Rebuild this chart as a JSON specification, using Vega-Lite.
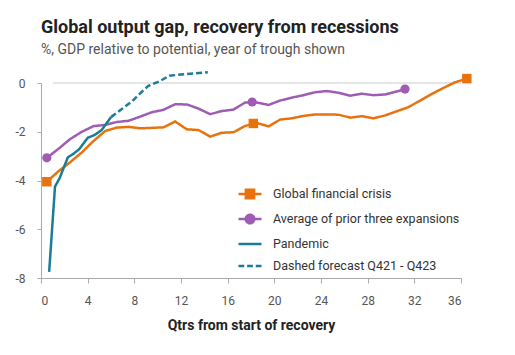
{
  "$schema": "https://vega.github.io/schema/vega-lite/v6.json",
  "width": 420,
  "height": 195,
  "autosize": "none",
  "padding": {"left": 41, "top": 83, "right": 54, "bottom": 77},
  "background": "white",
  "title": {
    "text": "Global output gap, recovery from recessions",
    "subtitle": "%, GDP relative to potential, year of trough shown",
    "anchor": "start",
    "frame": "group",
    "font": "Roboto",
    "fontSize": 18,
    "fontWeight": "bold",
    "color": "#222222",
    "subtitleFont": "Roboto",
    "subtitleFontSize": 14,
    "subtitleColor": "#555555",
    "subtitlePadding": 6,
    "offset": 10
  },
  "config": {
    "view": {"stroke": null},
    "font": "Roboto",
    "axis": {"labelFont": "Roboto", "titleFont": "Roboto"},
    "legend": {"labelFont": "Roboto"}
  },
  "datasets": {
    "lines": [
      {"q": 0.5, "v": -4.05, "s": "Global financial crisis"},
      {"q": 1.5, "v": -3.62, "s": "Global financial crisis"},
      {"q": 2.5, "v": -3.25, "s": "Global financial crisis"},
      {"q": 3.5, "v": -2.85, "s": "Global financial crisis"},
      {"q": 4.5, "v": -2.38, "s": "Global financial crisis"},
      {"q": 5.5, "v": -1.97, "s": "Global financial crisis"},
      {"q": 6.5, "v": -1.83, "s": "Global financial crisis"},
      {"q": 7.5, "v": -1.8, "s": "Global financial crisis"},
      {"q": 8.5, "v": -1.86, "s": "Global financial crisis"},
      {"q": 9.5, "v": -1.84, "s": "Global financial crisis"},
      {"q": 10.5, "v": -1.82, "s": "Global financial crisis"},
      {"q": 11.5, "v": -1.58, "s": "Global financial crisis"},
      {"q": 12.5, "v": -1.9, "s": "Global financial crisis"},
      {"q": 13.5, "v": -1.93, "s": "Global financial crisis"},
      {"q": 14.5, "v": -2.2, "s": "Global financial crisis"},
      {"q": 15.5, "v": -2.04, "s": "Global financial crisis"},
      {"q": 16.5, "v": -2.02, "s": "Global financial crisis"},
      {"q": 17.5, "v": -1.76, "s": "Global financial crisis"},
      {"q": 18.5, "v": -1.64, "s": "Global financial crisis"},
      {"q": 19.5, "v": -1.78, "s": "Global financial crisis"},
      {"q": 20.5, "v": -1.5, "s": "Global financial crisis"},
      {"q": 21.5, "v": -1.45, "s": "Global financial crisis"},
      {"q": 22.5, "v": -1.35, "s": "Global financial crisis"},
      {"q": 23.5, "v": -1.29, "s": "Global financial crisis"},
      {"q": 24.5, "v": -1.29, "s": "Global financial crisis"},
      {"q": 25.5, "v": -1.3, "s": "Global financial crisis"},
      {"q": 26.5, "v": -1.42, "s": "Global financial crisis"},
      {"q": 27.5, "v": -1.36, "s": "Global financial crisis"},
      {"q": 28.5, "v": -1.45, "s": "Global financial crisis"},
      {"q": 29.5, "v": -1.33, "s": "Global financial crisis"},
      {"q": 30.5, "v": -1.16, "s": "Global financial crisis"},
      {"q": 31.5, "v": -0.99, "s": "Global financial crisis"},
      {"q": 32.5, "v": -0.72, "s": "Global financial crisis"},
      {"q": 33.5, "v": -0.45, "s": "Global financial crisis"},
      {"q": 34.5, "v": -0.2, "s": "Global financial crisis"},
      {"q": 35.5, "v": 0.03, "s": "Global financial crisis"},
      {"q": 36.5, "v": 0.18, "s": "Global financial crisis"},
      {"q": 0.5, "v": -3.07, "s": "Average of prior three expansions"},
      {"q": 1.5, "v": -2.7, "s": "Average of prior three expansions"},
      {"q": 2.5, "v": -2.3, "s": "Average of prior three expansions"},
      {"q": 3.5, "v": -2.0, "s": "Average of prior three expansions"},
      {"q": 4.5, "v": -1.77, "s": "Average of prior three expansions"},
      {"q": 5.5, "v": -1.72, "s": "Average of prior three expansions"},
      {"q": 6.5, "v": -1.6, "s": "Average of prior three expansions"},
      {"q": 7.5, "v": -1.55, "s": "Average of prior three expansions"},
      {"q": 8.5, "v": -1.38, "s": "Average of prior three expansions"},
      {"q": 9.5, "v": -1.2, "s": "Average of prior three expansions"},
      {"q": 10.5, "v": -1.1, "s": "Average of prior three expansions"},
      {"q": 11.5, "v": -0.87, "s": "Average of prior three expansions"},
      {"q": 12.5, "v": -0.88, "s": "Average of prior three expansions"},
      {"q": 13.5, "v": -1.05, "s": "Average of prior three expansions"},
      {"q": 14.5, "v": -1.28, "s": "Average of prior three expansions"},
      {"q": 15.5, "v": -1.15, "s": "Average of prior three expansions"},
      {"q": 16.5, "v": -1.09, "s": "Average of prior three expansions"},
      {"q": 17.5, "v": -0.8, "s": "Average of prior three expansions"},
      {"q": 18.5, "v": -0.8, "s": "Average of prior three expansions"},
      {"q": 19.5, "v": -0.9, "s": "Average of prior three expansions"},
      {"q": 20.5, "v": -0.72, "s": "Average of prior three expansions"},
      {"q": 21.5, "v": -0.6, "s": "Average of prior three expansions"},
      {"q": 22.5, "v": -0.5, "s": "Average of prior three expansions"},
      {"q": 23.5, "v": -0.38, "s": "Average of prior three expansions"},
      {"q": 24.5, "v": -0.33, "s": "Average of prior three expansions"},
      {"q": 25.5, "v": -0.4, "s": "Average of prior three expansions"},
      {"q": 26.5, "v": -0.52, "s": "Average of prior three expansions"},
      {"q": 27.5, "v": -0.44, "s": "Average of prior three expansions"},
      {"q": 28.5, "v": -0.5, "s": "Average of prior three expansions"},
      {"q": 29.5, "v": -0.47, "s": "Average of prior three expansions"},
      {"q": 30.5, "v": -0.35, "s": "Average of prior three expansions"},
      {"q": 31.2, "v": -0.25, "s": "Average of prior three expansions"},
      {"q": 0.7, "v": -7.75, "s": "Pandemic"},
      {"q": 1.2, "v": -4.25, "s": "Pandemic"},
      {"q": 1.6, "v": -3.9, "s": "Pandemic"},
      {"q": 2.3, "v": -3.05, "s": "Pandemic"},
      {"q": 2.8, "v": -2.9, "s": "Pandemic"},
      {"q": 3.3, "v": -2.7, "s": "Pandemic"},
      {"q": 4.0, "v": -2.25, "s": "Pandemic"},
      {"q": 4.6, "v": -2.13, "s": "Pandemic"},
      {"q": 5.2, "v": -1.93, "s": "Pandemic"},
      {"q": 6.0, "v": -1.4, "s": "Pandemic"},
      {"q": 6.0, "v": -1.4, "s": "Dashed forecast Q421 - Q423"},
      {"q": 6.7, "v": -1.15, "s": "Dashed forecast Q421 - Q423"},
      {"q": 7.8, "v": -0.75, "s": "Dashed forecast Q421 - Q423"},
      {"q": 8.6, "v": -0.38, "s": "Dashed forecast Q421 - Q423"},
      {"q": 9.2, "v": -0.12, "s": "Dashed forecast Q421 - Q423"},
      {"q": 10.2, "v": 0.08, "s": "Dashed forecast Q421 - Q423"},
      {"q": 11.0, "v": 0.3, "s": "Dashed forecast Q421 - Q423"},
      {"q": 12.3, "v": 0.36, "s": "Dashed forecast Q421 - Q423"},
      {"q": 13.2, "v": 0.4, "s": "Dashed forecast Q421 - Q423"},
      {"q": 14.3, "v": 0.44, "s": "Dashed forecast Q421 - Q423"}
    ],
    "markers": [
      {"q": 0.5, "v": -4.05, "s": "Global financial crisis"},
      {"q": 18.2, "v": -1.66, "s": "Global financial crisis"},
      {"q": 36.5, "v": 0.18, "s": "Global financial crisis"},
      {"q": 0.5, "v": -3.07, "s": "Average of prior three expansions"},
      {"q": 18.1, "v": -0.78, "s": "Average of prior three expansions"},
      {"q": 31.2, "v": -0.25, "s": "Average of prior three expansions"}
    ]
  },
  "layer": [
    {
      "data": {"name": "markers"},
      "transform": [{"filter": "false"}],
      "mark": {"type": "point", "filled": true, "strokeWidth": 2.5, "opacity": 1},
      "encoding": {
        "x": {"field": "q", "type": "quantitative"},
        "y": {"field": "v", "type": "quantitative"},
        "shape": {
          "field": "s", "type": "nominal",
          "scale": {
            "domain": ["Global financial crisis", "Average of prior three expansions", "Pandemic", "Dashed forecast Q421 - Q423"],
            "range": [
              "M-1,0H1M-0.36,-0.36H0.36V0.36H-0.36Z",
              "M-1,0H1M0.37,0A0.37,0.37,0,1,1,-0.37,0A0.37,0.37,0,1,1,0.37,0Z",
              "M-1,0H1",
              "M-1,0H-0.5M-0.25,0H0.25M0.5,0H1"
            ]
          },
          "legend": {
            "title": null, "orient": "none", "legendX": 196, "legendY": 98,
            "symbolSize": 529, "symbolStrokeWidth": 2.5, "labelOffset": 10, "labelLimit": 400,
            "labelFontSize": 12.5, "labelColor": "#333333", "rowPadding": 2
          }
        },
        "fill": {
          "field": "s", "type": "nominal",
          "scale": {
            "domain": ["Global financial crisis", "Average of prior three expansions", "Pandemic", "Dashed forecast Q421 - Q423"],
            "range": ["#E8730E", "#A05CB4", "#1B7C98", "#1B7C98"]
          },
          "legend": {
            "title": null, "orient": "none", "legendX": 196, "legendY": 98,
            "symbolSize": 529, "symbolStrokeWidth": 2.5, "labelOffset": 10, "labelLimit": 400,
            "labelFontSize": 12.5, "labelColor": "#333333", "rowPadding": 2
          }
        },
        "stroke": {
          "field": "s", "type": "nominal",
          "scale": {
            "domain": ["Global financial crisis", "Average of prior three expansions", "Pandemic", "Dashed forecast Q421 - Q423"],
            "range": ["#E8730E", "#A05CB4", "#1B7C98", "#1B7C98"]
          },
          "legend": {
            "title": null, "orient": "none", "legendX": 196, "legendY": 98,
            "symbolSize": 529, "symbolStrokeWidth": 2.5, "labelOffset": 10, "labelLimit": 400,
            "labelFontSize": 12.5, "labelColor": "#333333", "rowPadding": 2
          }
        }
      }
    },
    {
      "data": {"values": [{}]},
      "mark": {"type": "rule", "color": "#dcdcdc", "strokeWidth": 1.5},
      "encoding": {
        "x": {"datum": 1, "type": "quantitative"},
        "x2": {"datum": 36},
        "y": {"datum": 0, "type": "quantitative"}
      }
    },
    {
      "data": {"name": "lines"},
      "mark": {"type": "line", "strokeWidth": 2.5, "interpolate": "linear"},
      "encoding": {
        "x": {
          "field": "q", "type": "quantitative",
          "scale": {"domain": [0, 36], "nice": false, "zero": false},
          "axis": {
            "values": [0, 4, 8, 12, 16, 20, 24, 28, 32, 36],
            "grid": false, "domainColor": "#aaaaaa", "tickColor": "#aaaaaa",
            "tickSize": 5, "labelPadding": 12, "labelFontSize": 12, "labelColor": "#555555",
            "title": "Qtrs from start of recovery", "titleFontSize": 14, "titleFontWeight": "bold",
            "titleColor": "#222222", "titlePadding": 12
          }
        },
        "y": {
          "field": "v", "type": "quantitative",
          "scale": {"domain": [-8, 0], "nice": false, "zero": false},
          "axis": {
            "values": [-8, -6, -4, -2, 0],
            "grid": false, "domainColor": "#aaaaaa", "tickColor": "#aaaaaa",
            "tickSize": 4, "labelPadding": 12, "labelFontSize": 12, "labelColor": "#555555",
            "labelExpr": "'' + datum.value", "title": null
          }
        },
        "color": {
          "field": "s", "type": "nominal",
          "scale": {
            "domain": ["Global financial crisis", "Average of prior three expansions", "Pandemic", "Dashed forecast Q421 - Q423"],
            "range": ["#E8730E", "#A05CB4", "#1B7C98", "#1B7C98"]
          },
          "legend": null
        },
        "strokeDash": {
          "field": "s", "type": "nominal",
          "scale": {
            "domain": ["Global financial crisis", "Average of prior three expansions", "Pandemic", "Dashed forecast Q421 - Q423"],
            "range": [[1, 0], [1, 0], [1, 0], [6, 3]]
          },
          "legend": null
        }
      }
    },
    {
      "data": {"name": "markers"},
      "transform": [{"filter": "datum.s == 'Global financial crisis'"}],
      "mark": {"type": "square", "size": 90, "color": "#E8730E", "opacity": 1},
      "encoding": {
        "x": {"field": "q", "type": "quantitative"},
        "y": {"field": "v", "type": "quantitative"}
      }
    },
    {
      "data": {"name": "markers"},
      "transform": [{"filter": "datum.s == 'Average of prior three expansions'"}],
      "mark": {"type": "circle", "size": 85, "color": "#A05CB4", "opacity": 1},
      "encoding": {
        "x": {"field": "q", "type": "quantitative"},
        "y": {"field": "v", "type": "quantitative"}
      }
    }
  ]
}
